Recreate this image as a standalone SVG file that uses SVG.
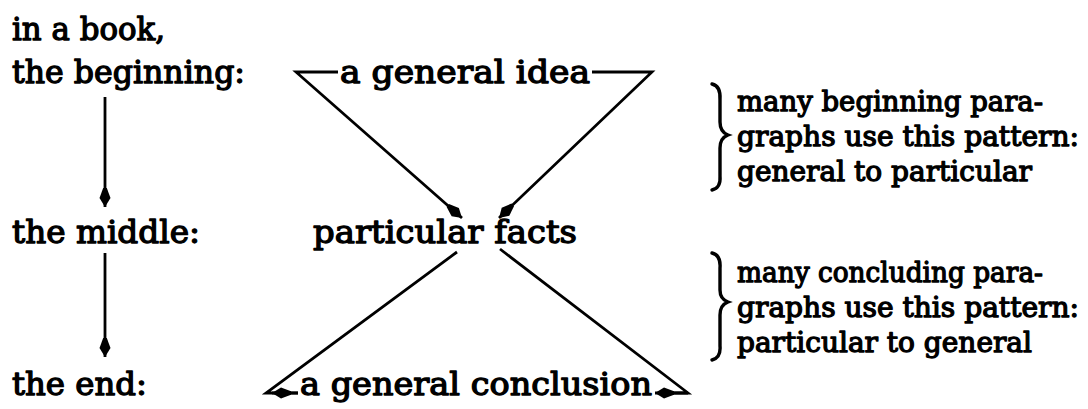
<svg xmlns="http://www.w3.org/2000/svg" width="1088" height="409" viewBox="0 0 1088 409">
<style>
text{font-family:"DejaVu Serif","Liberation Serif",serif;fill:#000;stroke:#000;stroke-width:1.3;stroke-linejoin:round}
.l{font-size:31px}
.r{font-size:28px}
.c{fill:none;stroke:#000;stroke-width:2.8;stroke-linejoin:miter}
.b{fill:none;stroke:#000;stroke-width:3.4;stroke-linecap:round}
</style>
<defs>
<marker id="ah" markerUnits="userSpaceOnUse" viewBox="-20 -7 21 14" refX="0" refY="0" markerWidth="21" markerHeight="14" orient="auto">
<path d="M-19,-1.8 L-9,-5.5 L0,0 L-9,5.5 L-19,1.8 Z" fill="#000"/>
</marker>
</defs>
<rect width="1088" height="409" fill="#fff"/>
<g id="stages">
<text class="l" x="12" y="40" textLength="153" lengthAdjust="spacingAndGlyphs">in a book,</text>
<text class="l" x="12" y="83" textLength="233" lengthAdjust="spacingAndGlyphs">the beginning:</text>
<text class="l" x="12" y="243" textLength="188" lengthAdjust="spacingAndGlyphs">the middle:</text>
<text class="l" x="12" y="395" textLength="135" lengthAdjust="spacingAndGlyphs">the end:</text>
</g>
<g id="general-idea"><text class="l" x="340" y="83" textLength="250" lengthAdjust="spacingAndGlyphs">a general idea</text></g>
<g id="particular-facts"><text class="l" x="313" y="243" textLength="264" lengthAdjust="spacingAndGlyphs">particular facts</text></g>
<g id="general-conclusion"><text class="l" x="300" y="395" textLength="352" lengthAdjust="spacingAndGlyphs">a general conclusion</text></g>
<g id="note-beginning">
<path class="b" d="M712,84 Q721,86 720,100 L720,122 Q720,132 728,135 Q720,138 720,148 L720,176 Q721,188 712,190"/>
<text class="r" x="737" y="111" textLength="306" lengthAdjust="spacingAndGlyphs">many beginning para-</text>
<text class="r" x="737" y="146" textLength="342" lengthAdjust="spacingAndGlyphs">graphs use this pattern:</text>
<text class="r" x="737" y="181" textLength="295" lengthAdjust="spacingAndGlyphs">general to particular</text>
</g>
<g id="note-concluding">
<path class="b" d="M712,253 Q721,255 720,268 L720,290 Q720,299 728,302 Q720,305 720,315 L720,346 Q721,358 712,360"/>
<text class="r" x="737" y="282" textLength="306" lengthAdjust="spacingAndGlyphs">many concluding para-</text>
<text class="r" x="737" y="317" textLength="342" lengthAdjust="spacingAndGlyphs">graphs use this pattern:</text>
<text class="r" x="737" y="352" textLength="295" lengthAdjust="spacingAndGlyphs">particular to general</text>
</g>
<g id="connectors">
<line class="c" x1="105" y1="97" x2="105" y2="207" marker-end="url(#ah)"/>
<line class="c" x1="105" y1="253" x2="105" y2="357" marker-end="url(#ah)"/>
<path class="c" d="M338,72 L296,72 L462,218" marker-end="url(#ah)"/>
<path class="c" d="M592,72 L652,72 L499,218" marker-end="url(#ah)"/>
<path class="c" d="M457,252 L266,393 L298,393"/>
<line class="c" x1="298" y1="393" x2="272" y2="393" marker-end="url(#ah)"/>
<path class="c" d="M500,249 L688,393 L670,393"/>
<line class="c" x1="688" y1="393" x2="655" y2="393" marker-end="url(#ah)"/>
</g>
</svg>
